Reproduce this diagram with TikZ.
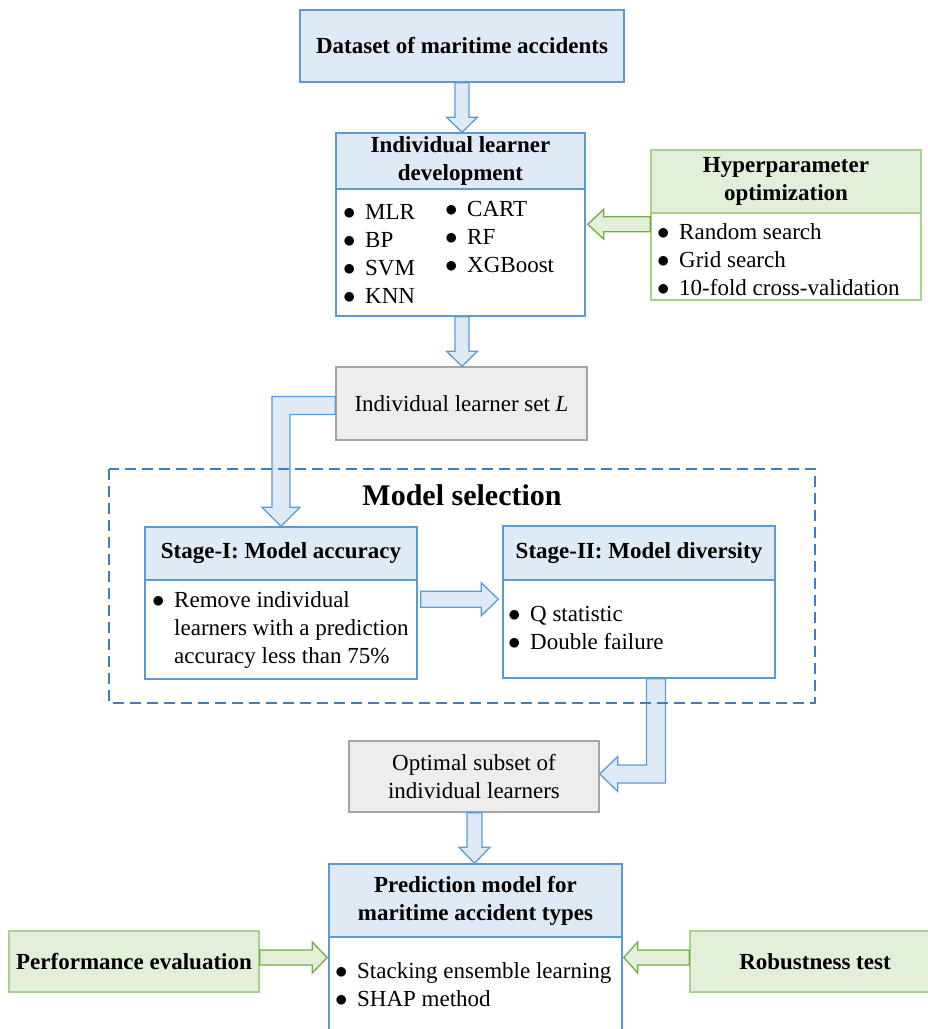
\documentclass[tikz,border=0pt]{standalone}
\usepackage{fontspec}
\setmainfont{Liberation Serif}
\usetikzlibrary{calc}
\definecolor{blueB}{HTML}{5B9BD5}
\definecolor{blueF}{HTML}{DEEBF7}
\definecolor{blueD}{HTML}{3D7FC4}
\definecolor{greenB}{HTML}{A9D18E}
\definecolor{greenF}{HTML}{E2F0D9}
\definecolor{greenA}{HTML}{70AD47}
\definecolor{grayB}{HTML}{A5A5A5}
\definecolor{grayF}{HTML}{EDEDED}
\newcommand{\itm}{\makebox[22pt][l]{$\bullet$}}
\begin{document}
\begin{tikzpicture}[x=1pt,y=-1pt,
    every node/.style={font=\fontsize{23}{28}\selectfont},
    bhead/.style={draw=blueB,fill=blueF,line width=1.5pt,inner sep=0,align=center,font=\fontsize{23}{28}\selectfont\bfseries},
    bbody/.style={draw=blueB,fill=white,line width=1.5pt,inner sep=0},
    ghead/.style={draw=greenB,fill=greenF,line width=1.5pt,inner sep=0,align=center,font=\fontsize{23}{28}\selectfont\bfseries},
    gbody/.style={draw=greenB,fill=white,line width=1.5pt,inner sep=0},
    gbox/.style={draw=grayB,fill=grayF,line width=1.5pt,inner sep=0,align=center},
    lst/.style={anchor=west,align=left,inner sep=0},
    barrow/.style={draw=blueB,fill=blueF,line width=1.3pt,line join=miter},
    garrow/.style={draw=greenA,fill=greenF,line width=1.3pt,line join=miter}]
  \clip (0,0) rectangle (928,1029);
  % top: data and learners
  \node[bhead,minimum width=324,minimum height=72] (ds) at (462,46) {Dataset of maritime accidents};
  \node[bhead,minimum width=249,minimum height=56] (ildh) at (460.5,161) {Individual learner\\development};
  \node[bbody,minimum width=249,minimum height=127] (ildb) at (460.5,252.5) {};
  \node[lst] (ildl) at (343,253.5) {\itm MLR\\\itm BP\\\itm SVM\\\itm KNN};
  \node[lst] (ildr) at (445,237) {\itm CART\\\itm RF\\\itm XGBoost};
  \node[ghead,minimum width=270,minimum height=63] (hyh) at (786,181.5) {Hyperparameter\\optimization};
  \node[gbody,minimum width=270,minimum height=87] (hyb) at (786,256.5) {};
  \node[lst] (hyl) at (657,260) {\itm Random search\\\itm Grid search\\\itm 10-fold cross-validation};
  \node[gbox,minimum width=251,minimum height=73] (set) at (461.5,403.5) {Individual learner set \textit{L}};
  % model selection
  \node[font=\fontsize{30}{34}\selectfont\bfseries] (msel) at (462,495) {Model selection};
  \node[bhead,minimum width=272,minimum height=53] (s1h) at (281,553.5) {Stage-I: Model accuracy};
  \node[bbody,minimum width=272,minimum height=99] (s1b) at (281,629.5) {};
  \node[lst] (s1l) at (152,630) {\itm Remove individual\\\hspace*{22pt}learners with a prediction\\\hspace*{22pt}accuracy less than 75\%};
  \node[bhead,minimum width=272,minimum height=54] (s2h) at (639,553) {Stage-II: Model diversity};
  \node[bbody,minimum width=272,minimum height=98] (s2b) at (639,629) {};
  \node[lst] (s2l) at (508,628) {\itm Q statistic\\\itm Double failure};
  \node[gbox,minimum width=250,minimum height=71] (opt) at (474,776.5) {Optimal subset of\\individual learners};
  % prediction model
  \node[bhead,minimum width=293,minimum height=73] (predh) at (475.5,900.5) {Prediction model for\\maritime accident types};
  \node[bbody,minimum width=293,minimum height=123] (predb) at (475.5,998.5) {};
  \node[lst] (predl) at (335,984.5) {\itm Stacking ensemble learning\\\itm SHAP method};
  \node[ghead,minimum width=250,minimum height=61] (perf) at (134,961.5) {Performance evaluation};
  \node[ghead,minimum width=250,minimum height=61] (rob) at (815,961.5) {Robustness test};
  % block arrows
  \draw[barrow] let \p1=(ds.south), \p2=(ildh.north) in (\x1-7pt,\y1) -- (\x1-7pt,\y2+15pt) -- (\x1-15.5pt,\y2+15pt) -- (\x1,\y2) -- (\x1+15.5pt,\y2+15pt) -- (\x1+7pt,\y2+15pt) -- (\x1+7pt,\y1) -- cycle;
  \draw[barrow] let \p1=($(ildb.south)+(1.5,0)$), \p2=(set.north) in (\x1-7pt,\y1) -- (\x1-7pt,\y2+15pt) -- (\x1-15.5pt,\y2+15pt) -- (\x1,\y2) -- (\x1+15.5pt,\y2+15pt) -- (\x1+7pt,\y2+15pt) -- (\x1+7pt,\y1) -- cycle;
  \draw[garrow] let \p1=($(hyb.north west)+(0,12)$), \p2=(ildb.east) in (\x1,\y1+7.5pt) -- (\x2+18pt,\y1+7.5pt) -- (\x2+18pt,\y1+15pt) -- (\x2+2pt,\y1) -- (\x2+18pt,\y1-15pt) -- (\x2+18pt,\y1-7.5pt) -- (\x1,\y1-7.5pt) -- cycle;
  \draw[barrow] let \p1=($(set.west)+(0,2)$), \p2=(s1h.north) in (\x1,\y1+9pt) -- (\x2-9pt,\y1+9pt) -- (\x2-9pt,\y2+19pt) -- (\x2-19pt,\y2+19pt) -- (\x2,\y2) -- (\x2+19pt,\y2+19pt) -- (\x2+9pt,\y2+19pt) -- (\x2+9pt,\y1-9pt) -- (\x1,\y1-9pt) -- cycle;
  \draw[barrow] let \p1=($(s1b.north east)+(3,20)$), \p2=($(s2b.north west)+(-4,20)$) in (\x1,\y1+8pt) -- (\x2-17pt,\y1+8pt) -- (\x2-17pt,\y1+16.5pt) -- (\x2,\y1) -- (\x2-17pt,\y1-16.5pt) -- (\x2-17pt,\y1-8pt) -- (\x1,\y1-8pt) -- cycle;
  \draw[barrow] let \p1=($(s2b.south)+(17,0)$), \p2=($(opt.east)+(0,-2.5)$) in (\x1-9.5pt,\y1) -- (\x1-9.5pt,\y2+9pt) -- (\x2+18pt,\y2+9pt) -- (\x2+18pt,\y2+17.5pt) -- (\x2,\y2) -- (\x2+18pt,\y2-17.5pt) -- (\x2+18pt,\y2-9pt) -- (\x1+9.5pt,\y2-9pt) -- (\x1+9.5pt,\y1) -- cycle;
  \draw[barrow] let \p1=($(opt.south)+(0.5,0)$), \p2=(predh.north) in (\x1-7.5pt,\y1) -- (\x1-7.5pt,\y2+16pt) -- (\x1-15.5pt,\y2+16pt) -- (\x1,\y2) -- (\x1+15.5pt,\y2+16pt) -- (\x1+7.5pt,\y2+16pt) -- (\x1+7.5pt,\y1) -- cycle;
  \draw[garrow] let \p1=($(perf.east)+(0,-4)$), \p2=(predb.west) in (\x1,\y1+7.5pt) -- (\x2-16pt,\y1+7.5pt) -- (\x2-16pt,\y1+15.5pt) -- (\x2-1pt,\y1) -- (\x2-16pt,\y1-15.5pt) -- (\x2-16pt,\y1-7.5pt) -- (\x1,\y1-7.5pt) -- cycle;
  \draw[garrow] let \p1=($(rob.west)+(0,-4)$), \p2=(predb.east) in (\x1,\y1+7.5pt) -- (\x2+15pt,\y1+7.5pt) -- (\x2+15pt,\y1+15.5pt) -- (\x2+1pt,\y1) -- (\x2+15pt,\y1-15.5pt) -- (\x2+15pt,\y1-7.5pt) -- (\x1,\y1-7.5pt) -- cycle;
  % dashed frame on top
  \draw[blueD,line width=1.5pt,dash pattern=on 11pt off 6pt] (109,469) rectangle (815,703);
\end{tikzpicture}
\end{document}
